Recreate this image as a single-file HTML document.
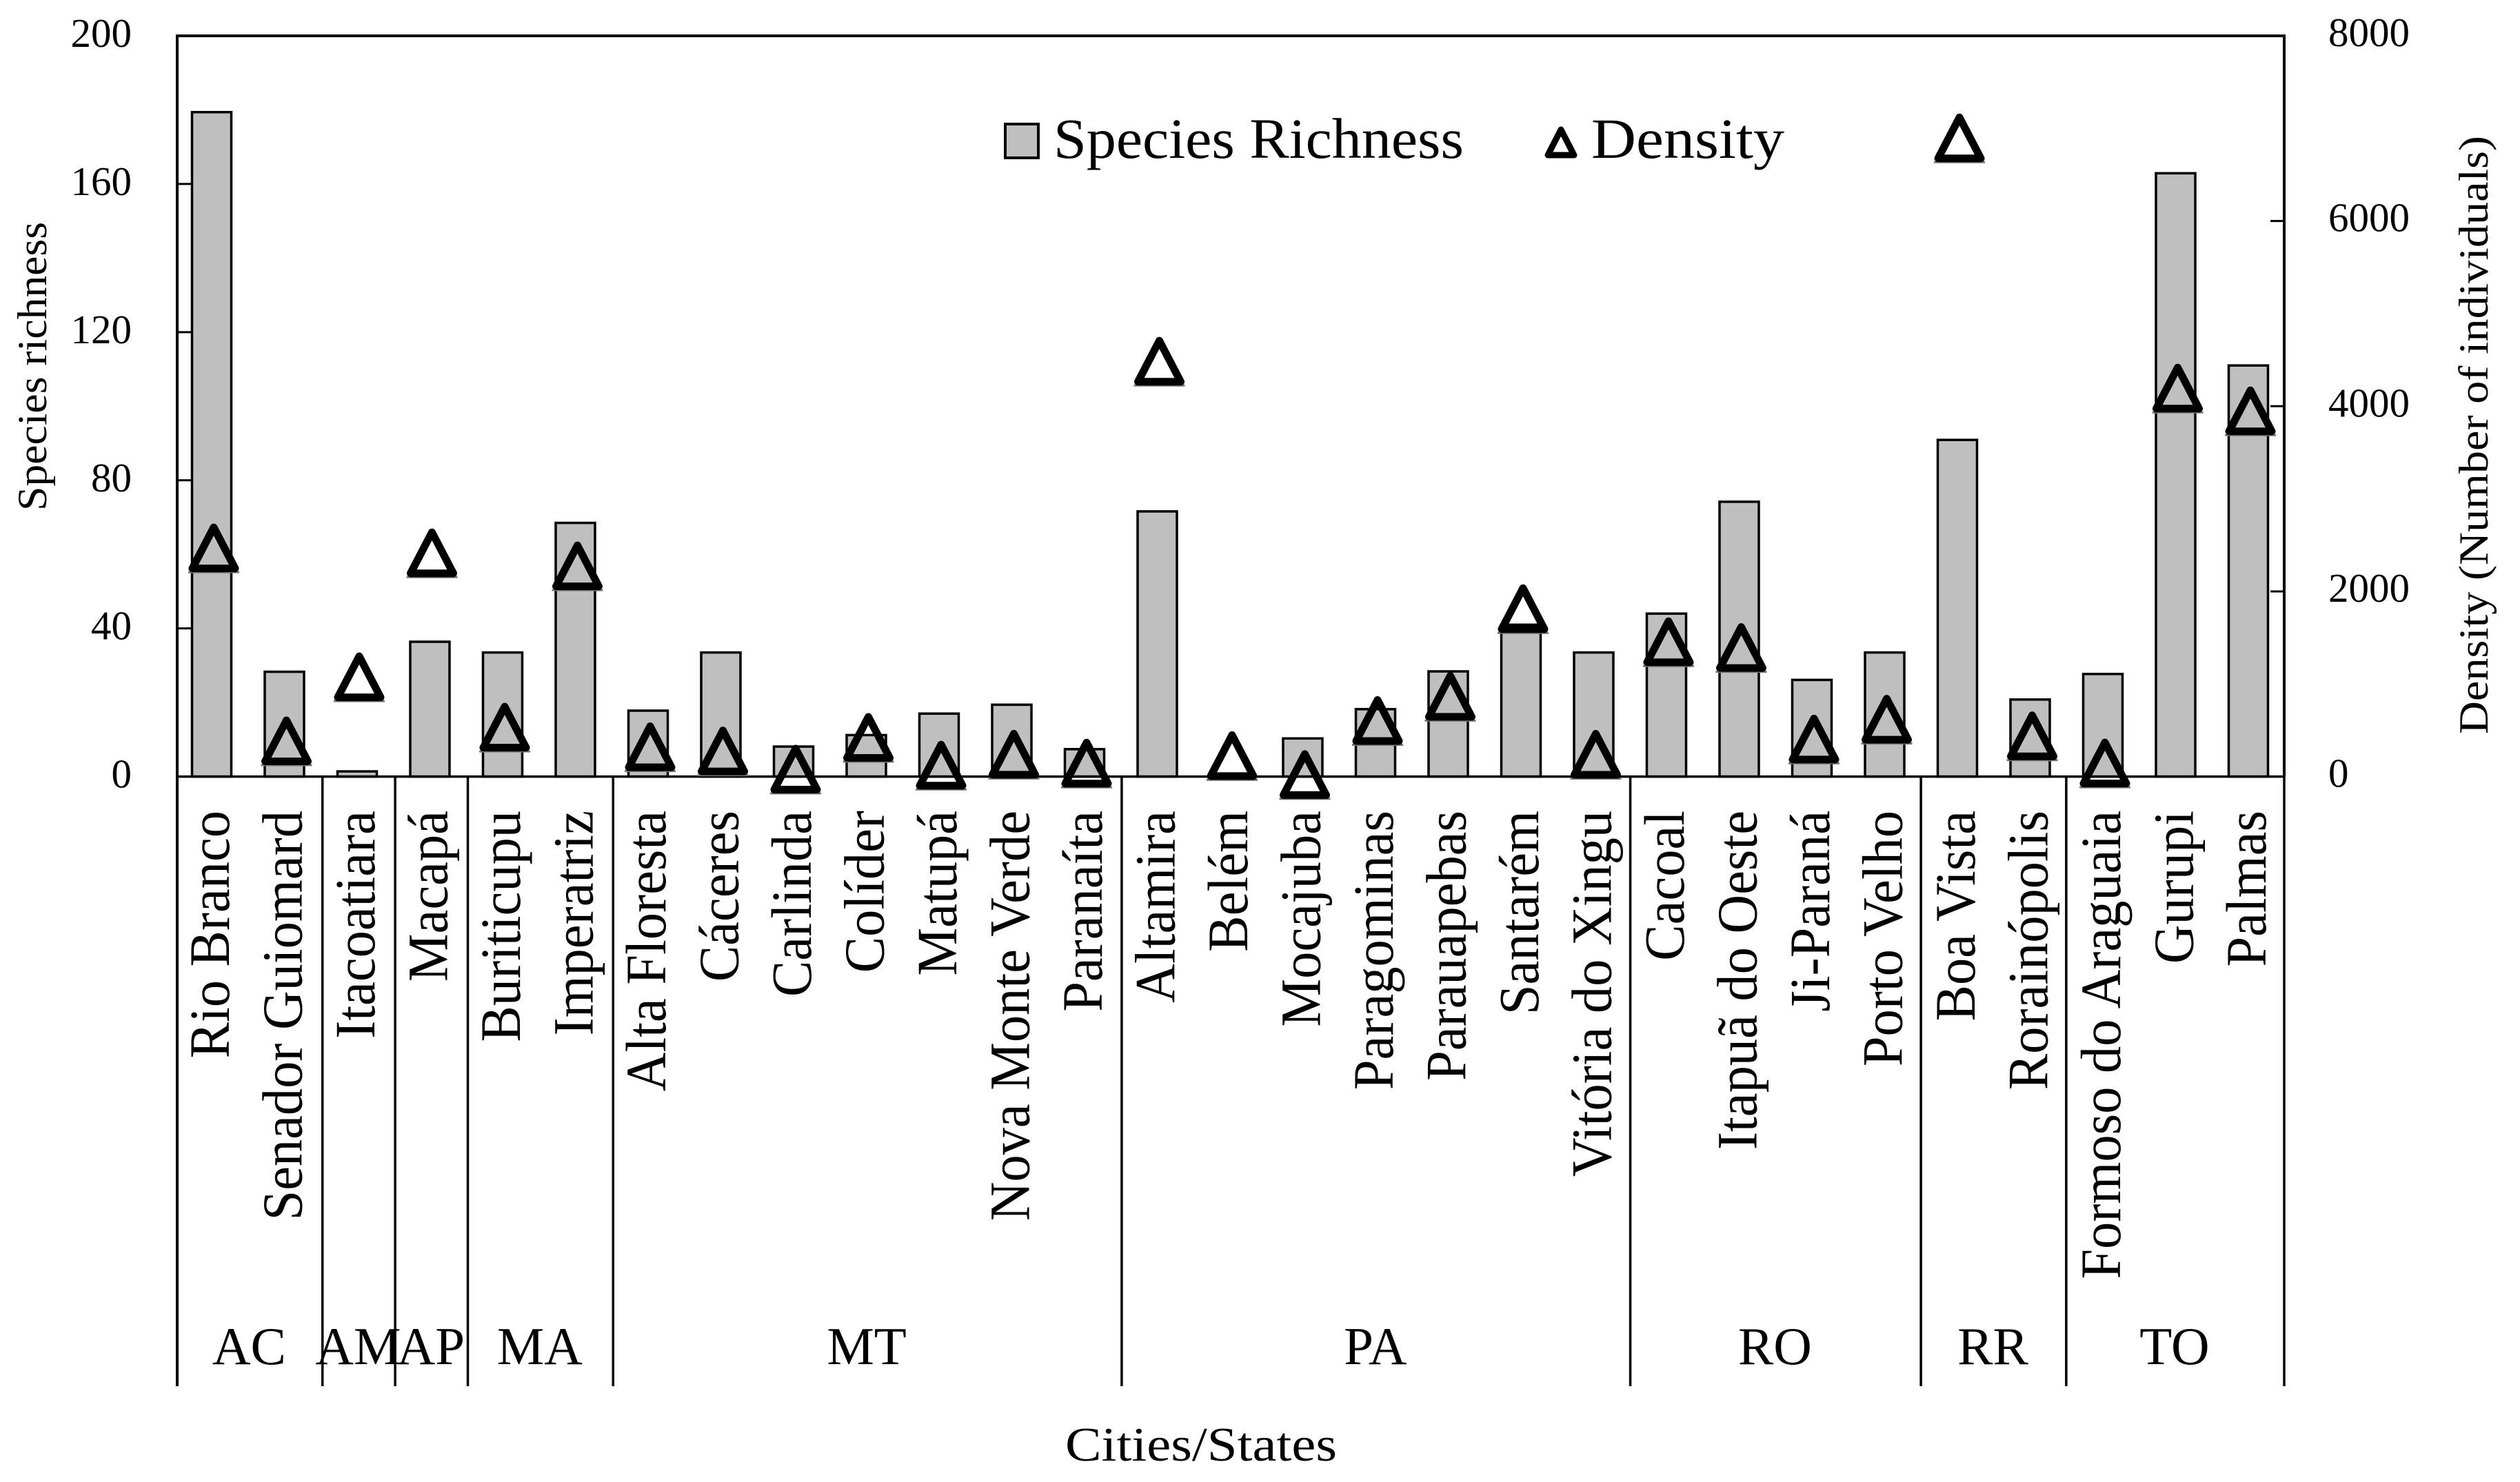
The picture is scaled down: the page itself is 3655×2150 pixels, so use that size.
<!DOCTYPE html>
<html lang="en">
<head>
<meta charset="utf-8">
<title>Species richness and density by city and state</title>
<style>
html,body{margin:0;padding:0;background:#fff;}
svg{display:block;}
text{font-family:"Liberation Serif","DejaVu Serif",serif;fill:#000;}
</style>
</head>
<body>
<svg id="chart" xmlns="http://www.w3.org/2000/svg" width="3655" height="2150" viewBox="0 0 3655 2150">
  <rect x="0" y="0" width="3655" height="2150" fill="#fff"/>
  <text transform="translate(67,741) rotate(-90)" font-size="60" textLength="419" lengthAdjust="spacingAndGlyphs">Species richness</text>
  <text transform="translate(3608,1065) rotate(-90)" font-size="60" textLength="868" lengthAdjust="spacingAndGlyphs">Density (Number of individuals)</text>
  <text x="1545" y="2119" font-size="70" textLength="394" lengthAdjust="spacingAndGlyphs">Cities/States</text>
  <g>
    <rect x="1458" y="180" width="48" height="49" fill="#bfbfbf" stroke="#000" stroke-width="4"/>
    <text x="1528" y="229" font-size="83" textLength="595" lengthAdjust="spacingAndGlyphs">Species Richness</text>
    <path d="M2245 225 L2264 188 L2283 225 Z" fill="#fff" stroke="#000" stroke-width="9" stroke-linejoin="round"/>
    <text x="2308" y="229" font-size="83" textLength="280" lengthAdjust="spacingAndGlyphs">Density</text>
  </g>
  <g id="bars"></g>
  <g id="axes"></g>
  <g id="cat-labels"></g>
  <g id="state-labels"></g>
  <g id="tick-labels"></g>
  <g id="markers"></g>
</svg>
<script>
const cities = ["Rio Branco","Senador Guiomard","Itacoatiara","Macapá","Buriticupu","Imperatriz","Alta Floresta","Cáceres","Carlinda","Colíder","Matupá","Nova Monte Verde","Paranaíta","Altamira","Belém","Mocajuba","Paragominas","Parauapebas","Santarém","Vitória do Xingu","Cacoal","Itapuã do Oeste","Ji-Paraná","Porto Velho","Boa Vista","Rorainópolis","Formoso do Araguaia","Gurupi","Palmas"];
const speciesRichness = [179.4,28.3,1.4,36.4,33.5,68.5,17.8,33.5,8.1,11.2,17,19.4,7.4,71.6,0,10.3,18.2,28.4,41,33.5,44,74.2,26.1,33.5,90.9,20.8,27.7,162.9,111];
const density = [2468,384,1076,2415,532,2274,320,275,79,421,122,240,144,4484,225,20,604,865,1812,239,1454,1392,404,618,6896,438,145,4194,3948];
const states = ["AC","AM","AP","MA","MT","PA","RO","RR","TO"];
const stateCityCounts = [2,1,1,2,7,7,4,2,3];
const leftTicks = [0,40,80,120,160,200];
const rightTicks = [0,2000,4000,6000,8000];

const NS = "http://www.w3.org/2000/svg";
const plot = {left:257, right:3313, top:52, base:1126.6, groupBottom:2011};
const LEFT_MAX = 200, RIGHT_MAX = 8000;
function yLeft(v){ return plot.base - v * (plot.base - plot.top) / LEFT_MAX; }
function yRight(v){ return plot.base - v * (plot.base - plot.top) / RIGHT_MAX; }
function barCenter(i){ return 307 + 105.5 * i; }
function markerCenter(i){ return barCenter(i) + 3; }
function groupEdge(k){ return plot.left + k * (plot.right - plot.left) / cities.length; }
function make(tag, attrs, parent){
  const n = document.createElementNS(NS, tag);
  for (const k in attrs) n.setAttribute(k, attrs[k]);
  parent.appendChild(n);
  return n;
}
function vline(parent, x, y1, y2, w){
  return make("line", {x1:x, x2:x, y1:y1, y2:y2, stroke:"#000", "stroke-width":w}, parent);
}
function hline(parent, x1, x2, y, w){
  return make("line", {x1:x1, x2:x2, y1:y, y2:y, stroke:"#000", "stroke-width":w}, parent);
}

const barsG = document.getElementById("bars");
const axesG = document.getElementById("axes");
const catG = document.getElementById("cat-labels");
const stateG = document.getElementById("state-labels");
const tickG = document.getElementById("tick-labels");
const markG = document.getElementById("markers");
const BAR_W = 57;

speciesRichness.forEach(function(v, i){
  const r = make("rect", {x:barCenter(i) - BAR_W / 2, y:yLeft(v), width:BAR_W, height:Math.max(0, plot.base - yLeft(v)), fill:"#bfbfbf", stroke:"#000", "stroke-width":3.5}, barsG);
  
  
});

const frame = make("path", {d:"M"+plot.left+" "+plot.base+" V"+plot.top+" H"+plot.right+" V"+plot.base, fill:"none", stroke:"#000", "stroke-width":4}, axesG);


const baseLine = hline(axesG, plot.left, plot.right, plot.base, 3.5);



leftTicks.forEach(function(t){
  if (t > 0 && t < LEFT_MAX) {
    const m = hline(axesG, plot.left, plot.left + 20, yLeft(t), 3);
    
    
  }
  const lb = make("text", {x:191, y:yLeft(t) + 16, "font-size":59, "text-anchor":"end"}, tickG);
  lb.textContent = String(t);
  
  
});
rightTicks.forEach(function(t){
  if (t > 0 && t < RIGHT_MAX) {
    const m = hline(axesG, plot.right - 20, plot.right, yRight(t), 3);
    
    
  }
  const lb = make("text", {x:3377, y:yRight(t) + 15, "font-size":59}, tickG);
  lb.textContent = String(t);
  
  
});

cities.forEach(function(c, i){
  const t = make("text", {transform:"translate("+(barCenter(i) + 25)+",1176) rotate(-90) scale(0.945,1)", "font-size":83, "text-anchor":"end"}, catG);
  t.textContent = c;
  
  
});

let edgeCount = 0;
const firstEdge = vline(axesG, groupEdge(0), plot.base, plot.groupBottom, 4);


states.forEach(function(s, i){
  const start = edgeCount;
  edgeCount += stateCityCounts[i];
  const d = vline(axesG, groupEdge(edgeCount), plot.base, plot.groupBottom, 3.5);
  
  
  const t = make("text", {x:(groupEdge(start) + groupEdge(edgeCount)) / 2 - 1, y:1979, "font-size":77, "text-anchor":"middle"}, stateG);
  t.textContent = s;
  
  
});

density.forEach(function(v, i){
  const cx = markerCenter(i), cy = yRight(v);
  const s = make("line", {x1:cx - 37, x2:cx + 37, y1:cy + 35, y2:cy + 35, stroke:"#777", "stroke-width":3}, markG);
  
  
  const p = make("path", {d:"M"+(cx - 31)+" "+(cy + 29.5)+" L"+cx+" "+(cy - 30)+" L"+(cx + 31)+" "+(cy + 29.5)+" Z", fill:"none", stroke:"#000", "stroke-width":11, "stroke-linejoin":"round"}, markG);
  
  
});
</script>
</body>
</html>
